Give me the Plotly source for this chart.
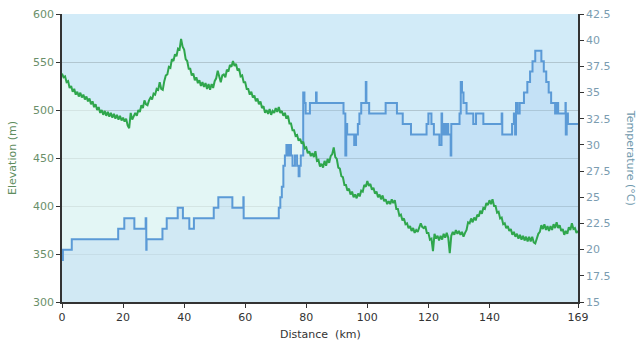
import plotly.graph_objects as go

# Elevation profile (m), sampled every 0.5 km from 0 to 169 km
elev_step_km = 0.5
elev_m = [
    538, 534, 535, 529, 530, 523, 525, 519, 522, 516,
    519, 514, 518, 513, 516, 511, 514, 509, 512, 506,
    509, 503, 506, 500, 503, 497, 500, 495, 499, 494,
    498, 493, 497, 492, 496, 491, 495, 490, 494, 489,
    492, 488, 491, 484, 481, 497, 490, 494, 497, 494,
    500, 498, 505, 502, 510, 506, 505, 510, 513, 511,
    517, 516, 522, 521, 529, 522, 521, 530, 536, 537,
    545, 544, 553, 551, 558, 556, 564, 563, 574, 566,
    563, 553, 551, 543, 543, 536, 538, 531, 534, 528,
    531, 525, 529, 524, 528, 522, 527, 521, 527, 523,
    530, 533, 541, 535, 529, 536, 537, 534, 542, 540,
    547, 545, 551, 546, 548, 541, 543, 535, 536, 529,
    529, 522, 522, 516, 519, 513, 515, 509, 512, 506,
    509, 502, 504, 497, 500, 496, 501, 495, 499, 497,
    502, 498, 503, 497, 499, 494, 497, 491, 494, 486,
    486, 479, 479, 473, 474, 468, 470, 465, 467, 460,
    461, 455, 457, 452, 455, 451, 457, 447, 448, 441,
    444, 440, 447, 442, 449, 445, 452, 454, 461, 451,
    449, 440, 439, 431, 430, 422, 422, 416, 418, 412,
    415, 409, 412, 408, 413, 410, 416, 415, 422, 420,
    426, 421, 423, 417, 419, 413, 415, 409, 412, 407,
    411, 405, 407, 402, 405, 402, 407, 403, 406, 397,
    397, 390, 391, 385, 387, 381, 382, 377, 379, 374,
    377, 372, 375, 373, 379, 382, 378, 377, 379, 372,
    372, 365, 366, 353, 371, 366, 369, 364, 369, 365,
    371, 367, 372, 367, 351, 369, 373, 370, 375, 371,
    374, 370, 373, 368, 372, 375, 383, 382, 387, 383,
    388, 385, 391, 389, 395, 392, 398, 397, 403, 401,
    406, 402, 407, 400, 400, 393, 394, 387, 388, 381,
    382, 377, 379, 374, 376, 370, 373, 368, 371, 366,
    370, 365, 369, 364, 368, 363, 368, 363, 368, 362,
    361, 366, 371, 373, 380, 376, 381, 375, 379, 374,
    379, 375, 381, 377, 383, 377, 380, 374, 376, 370,
    374, 371, 378, 375, 382, 376, 377, 372, 374,
]
elev_km = [i * elev_step_km for i in range(len(elev_m))]

# Temperature (°C) readings, held until the next change
temp_km = [
    0, 0.3, 3.2, 18.4, 20.4, 23.7, 27.4, 27.6, 27.7, 32.9,
    34.3, 37.9, 39.6, 41.7, 43.2, 49.7, 51.2, 55.8, 59.4, 59.5,
    71.0, 71.5, 72.0, 72.5, 73.0, 73.5, 74.0, 74.5, 75.0, 75.5,
    76.3, 77.0, 77.5, 77.8, 78.2, 79.0, 79.4, 79.8, 81.2, 83.2,
    83.4, 92.2, 92.8, 93.1, 93.4, 95.7, 96.3, 96.9, 97.4, 98.0,
    99.5, 99.7, 100.6, 106.0, 109.7, 111.6, 114.3, 119.4, 120.0, 121.0,
    121.8, 123.6, 124.3, 124.5, 125.0, 125.6, 126.0, 126.5, 127.3, 127.5,
    130.2, 130.6, 131.0, 131.5, 132.5, 134.7, 135.6, 138.0, 144.0, 144.2,
    147.4, 148.0, 148.4, 148.7, 149.2, 149.9, 151.3, 152.4, 153.3, 154.1,
    155.0, 157.0, 157.8, 158.6, 159.4, 160.2, 161.5, 161.9, 162.5, 164.9,
    165.0, 165.3, 165.7, 169,
]
temp_c = [
    19, 20, 21, 22, 23, 22, 23, 20, 21, 22,
    23, 24, 23, 22, 23, 24, 25, 24, 25, 23,
    24, 25, 26, 28, 29, 30, 29, 30, 29, 28,
    29, 28, 27, 28, 29, 35, 34, 33, 34, 35,
    34, 33, 29, 32, 31, 30, 31, 32, 33, 34,
    36, 34, 33, 34, 33, 32, 31, 32, 33, 32,
    31, 30, 33, 31, 32, 31, 32, 31, 29, 32,
    33, 36, 35, 34, 33, 32, 33, 32, 33, 31,
    32, 33, 31, 34, 33, 34, 35, 36, 37, 38,
    39, 38, 37, 36, 35, 34, 33, 34, 33, 34,
    31, 33, 32, 32,
]

x_ticks = [0, 20, 40, 60, 80, 100, 120, 140, 169]
elev_ticks = [300, 350, 400, 450, 500, 550, 600]
temp_ticks = [15, 17.5, 20, 22.5, 25, 27.5, 30, 32.5, 35, 37.5, 40, 42.5]

GREEN = "#2fa64c"
BLUE = "#5b9ad6"
FONT = "DejaVu Sans"

fig = go.Figure()

# area under the elevation profile
fig.add_trace(go.Scatter(
    x=elev_km, y=elev_m, mode="lines", line=dict(width=0),
    fill="tozeroy", fillcolor="rgba(240,255,242,0.55)",
    hoverinfo="skip", showlegend=False, yaxis="y",
))
# temperature steps with their area
fig.add_trace(go.Scatter(
    x=temp_km, y=temp_c, mode="lines", line=dict(color=BLUE, width=2, shape="hv"),
    fill="tozeroy", fillcolor="rgba(160,200,242,0.28)",
    showlegend=False, yaxis="y2",
))
# elevation line on top
fig.add_trace(go.Scatter(
    x=elev_km, y=elev_m, mode="lines", line=dict(color=GREEN, width=2),
    showlegend=False, yaxis="y3",
))

fig.update_layout(
    width=640, height=349,
    margin=dict(l=62, r=62, t=8, b=47),
    paper_bgcolor="white",
    plot_bgcolor="#d2ebf8",
    font=dict(family=FONT, size=11, color="#333"),
    xaxis=dict(
        range=[0, 169], tickvals=x_ticks, ticktext=[str(v) for v in x_ticks],
        showgrid=False, zeroline=False, showline=True, linecolor="#333", linewidth=1.5,
        ticks="outside", ticklen=4, tickcolor="#333", tickfont=dict(color="#333", size=11),
    ),
    yaxis=dict(
        range=[300, 600], tickvals=elev_ticks, side="left",
        showgrid=True, gridcolor="rgba(150,168,175,0.55)", gridwidth=1, zeroline=False,
        showline=True, linecolor="#333", linewidth=1.5,
        ticks="outside", ticklen=4, tickcolor="#333",
        tickfont=dict(color="#6a8f6a", size=11),
    ),
    yaxis2=dict(
        range=[15, 42.5], tickvals=temp_ticks, ticktext=[f"{v:g}" for v in temp_ticks],
        overlaying="y", side="right", showgrid=False, zeroline=False,
        showline=True, linecolor="#333", linewidth=1.5,
        ticks="outside", ticklen=4, tickcolor="#333",
        tickfont=dict(color="#7b9cb0", size=11),
    ),
    yaxis3=dict(
        range=[300, 600], overlaying="y", visible=False,
    ),
    annotations=[
        dict(text="Elevation (m)", xref="paper", yref="paper", x=-0.097, y=0.5,
             textangle=-90, showarrow=False, xanchor="center", yanchor="middle",
             font=dict(family=FONT, size=11, color="#5e8d5e")),
        dict(text="Temperature (°C)", xref="paper", yref="paper", x=1.103, y=0.5,
             textangle=90, showarrow=False, xanchor="center", yanchor="middle",
             font=dict(family=FONT, size=11, color="#6f98ad")),
        dict(text="Distance  (km)", xref="paper", yref="paper", x=0.5, y=-0.112,
             showarrow=False, xanchor="center", yanchor="middle",
             font=dict(family=FONT, size=11, color="#333")),
    ],
)

fig.write_html("out.html")
